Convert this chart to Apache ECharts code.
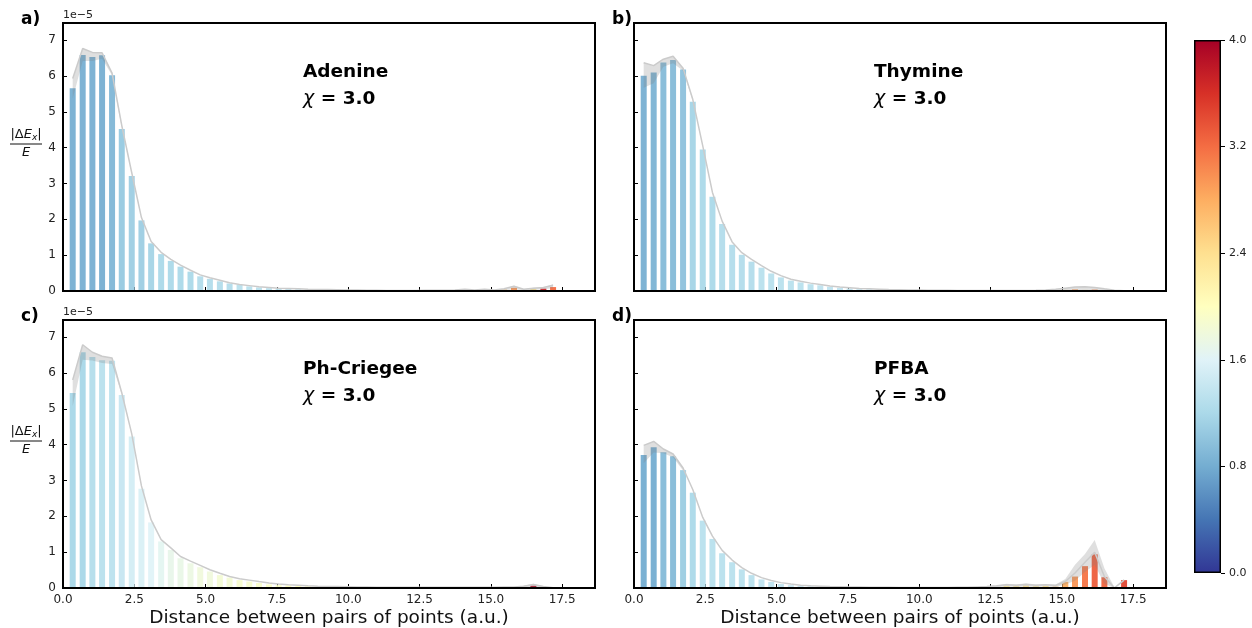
<!DOCTYPE html>
<html><head><meta charset="utf-8">
<script src="https://cdn.jsdelivr.net/npm/echarts/dist/echarts.min.js"></script>
<style>html,body{margin:0;padding:0;background:#fff}#c{width:1252px;height:628px}</style>
</head><body><div id="c"></div>
<script>
// ---- data (y values in units of 1e-5) ----
const binCenters = [0.34,0.69,1.03,1.37,1.72,2.06,2.41,2.75,3.09,3.44,3.78,4.12,4.47,4.81,5.15,5.50,5.84,6.19,6.53,6.87,7.22,7.56,7.90,8.25,8.59,8.93,9.28,9.62,9.96,10.31,10.65,11.00,11.34,11.68,12.03,12.37,12.71,13.06,13.40,13.74,14.09,14.43,14.78,15.12,15.46,15.81,16.15,16.49,16.84,17.18];

const panelNames = ['Adenine','Thymine','Ph-Criegee','PFBA'];
const panelLetters = ['a)','b)','c)','d)'];
const chiLabel = '\u03c7';
const chiValue = ' = 3.0';
const xTitle = 'Distance between pairs of points (a.u.)';
const offsetText = '1e\u22125';
const colorbarTicks = [0.0,0.8,1.6,2.4,3.2,4.0];
const cmapColors = ['#313695','#4575b4','#74add1','#abd9e9','#e0f3f8','#ffffbf','#fee090','#fdae61','#f46d43','#d73027','#a50026'];

const barsA = [5.66,6.59,6.53,6.58,6.02,4.52,3.21,1.97,1.33,1.03,0.84,0.68,0.54,0.41,0.34,0.27,0.21,0.17,0.13,0.10,0.08,0.07,0.06,0.05,0.04,0.035,0.03,0.025,0.02,0.02,0.015,0.015,0.01,0.01,0.01,0.01,0.01,0.01,0.015,0.02,0.02,0.015,0.03,0.02,0.04,0.09,0.03,0.06,0.065,0.11];
const colA  = [0.82,0.82,0.82,0.82,0.88,1.05,1.1,1.1,1.15,1.2,1.2,1.2,1.2,1.25,1.25,1.25,1.25,1.3,1.3,1.3,1.3,1.3,1.35,1.35,1.35,1.4,1.4,1.4,1.45,1.45,1.5,1.5,1.55,1.6,1.7,1.8,1.9,2.0,2.1,2.3,2.6,2.2,2.8,2.4,2.6,2.95,2.3,2.3,3.7,3.2];
const lineA = [5.93,6.77,6.66,6.65,6.08,4.62,3.30,2.05,1.38,1.08,0.88,0.72,0.58,0.45,0.37,0.30,0.23,0.18,0.15,0.12,0.10,0.08,0.07,0.06,0.05,0.045,0.04,0.035,0.03,0.025,0.02,0.02,0.015,0.015,0.015,0.015,0.02,0.02,0.02,0.03,0.05,0.03,0.05,0.03,0.06,0.13,0.05,0.08,0.10,0.16];
const bandA = [[0.34,5.37,5.93],[0.69,6.42,6.77],[1.03,6.42,6.66],[1.37,6.48,6.65],[1.72,6.02,6.08],[2.06,4.55,4.62],
               [13.40,0.01,0.02],[13.74,0.01,0.03],[14.09,0.01,0.05],[14.43,0.01,0.03],[14.78,0.01,0.05],[15.12,0.01,0.03],[15.46,0.02,0.06],[15.81,0.05,0.15],[16.15,0.02,0.05],[16.49,0.03,0.09],[16.84,0.05,0.10],[17.18,0.08,0.19]];

const barsB = [6.01,6.10,6.38,6.45,6.18,5.28,3.95,2.63,1.87,1.29,1.01,0.82,0.65,0.49,0.38,0.29,0.24,0.19,0.16,0.12,0.09,0.07,0.06,0.05,0.04,0.035,0.03,0.025,0.02,0.02,0.015,0.015,0.01,0.01,0.01,0.01,0.01,0.01,0.01,0.01,0.01,0.015,0.02,0.03,0.045,0.03,0.04,0.02,0.01,0.01];
const colB  = [0.82,0.85,0.92,0.92,0.98,1.15,1.2,1.2,1.25,1.25,1.25,1.25,1.3,1.3,1.3,1.3,1.3,1.3,1.35,1.35,1.35,1.35,1.4,1.4,1.4,1.45,1.45,1.5,1.5,1.55,1.6,1.6,1.7,1.8,1.9,2.0,2.1,2.2,2.3,2.3,2.4,2.5,2.6,2.5,2.9,2.5,3.0,2.4,2.4,2.5];
const lineB = [6.37,6.29,6.47,6.55,6.22,5.35,4.05,2.75,1.95,1.37,1.07,0.88,0.71,0.55,0.43,0.33,0.27,0.22,0.18,0.14,0.11,0.09,0.07,0.06,0.05,0.04,0.035,0.03,0.025,0.02,0.02,0.02,0.015,0.015,0.015,0.015,0.015,0.015,0.015,0.015,0.02,0.03,0.05,0.08,0.11,0.12,0.10,0.06,0.02,0.01];
const bandB = [[0.34,5.67,6.37],[0.69,5.80,6.29],[1.03,6.26,6.47],[1.37,6.36,6.55],[1.72,6.15,6.22],[2.06,5.30,5.35],
               [14.43,0.01,0.03],[14.78,0.01,0.05],[15.12,0.01,0.08],[15.46,0.02,0.11],[15.81,0.02,0.12],[16.15,0.02,0.10],[16.49,0.01,0.06],[16.84,0.00,0.02]];

const barsC = [5.44,6.58,6.45,6.36,6.34,5.39,4.23,2.77,1.83,1.30,1.06,0.83,0.69,0.58,0.46,0.36,0.29,0.22,0.18,0.14,0.10,0.08,0.07,0.06,0.05,0.04,0.035,0.03,0.025,0.02,0.015,0.015,0.01,0.01,0.01,0.01,0.01,0.01,0.01,0.01,0.01,0.01,0.01,0.015,0.02,0.02,0.03,0.065,0.02,0.01];
const colC  = [1.18,1.18,1.26,1.3,1.32,1.4,1.5,1.55,1.6,1.65,1.7,1.72,1.75,1.8,1.8,1.85,1.85,1.9,1.9,1.92,1.95,1.95,2.0,2.0,2.0,2.05,2.05,2.05,2.1,2.1,2.1,2.15,2.2,2.2,2.25,2.3,2.3,2.4,2.4,2.5,2.5,2.6,2.6,2.7,2.8,2.9,3.0,3.9,3.2,3.0];
const lineC = [5.81,6.79,6.58,6.47,6.42,5.45,4.30,2.85,1.90,1.35,1.12,0.88,0.75,0.63,0.51,0.41,0.32,0.26,0.22,0.18,0.14,0.11,0.09,0.08,0.06,0.05,0.045,0.04,0.035,0.03,0.025,0.02,0.02,0.02,0.02,0.02,0.02,0.02,0.02,0.02,0.02,0.02,0.02,0.02,0.03,0.03,0.05,0.10,0.04,0.01];
const bandC = [[0.34,5.08,5.81],[0.69,6.37,6.79],[1.03,6.35,6.58],[1.37,6.28,6.47],[1.72,6.25,6.42],[2.06,5.40,5.45],
               [15.46,0.01,0.02],[15.81,0.01,0.03],[16.15,0.02,0.06],[16.49,0.03,0.12],[16.84,0.01,0.04],[17.18,0.00,0.01]];

const barsD = [3.71,3.93,3.79,3.68,3.29,2.66,1.88,1.37,0.97,0.72,0.52,0.36,0.24,0.17,0.11,0.08,0.06,0.05,0.04,0.03,0.03,0.02,0.02,0.015,0.015,0.01,0.01,0.01,0.01,0.01,0.01,0.01,0.01,0.01,0.01,0.015,0.02,0.065,0.05,0.07,0.05,0.06,0.04,0.17,0.32,0.61,0.94,0.30,0.0,0.22];
const colD  = [0.8,0.8,0.92,0.92,1.08,1.2,1.3,1.3,1.3,1.3,1.3,1.3,1.35,1.35,1.35,1.4,1.4,1.4,1.45,1.45,1.5,1.5,1.55,1.6,1.6,1.7,1.7,1.8,1.8,1.9,1.9,2.0,2.0,2.1,2.1,2.2,2.2,2.25,2.3,2.35,2.25,2.35,2.6,2.8,2.95,3.15,3.3,3.25,3.3,3.45];
const lineD = [3.98,4.09,3.88,3.74,3.35,2.75,1.97,1.45,1.05,0.78,0.57,0.41,0.29,0.21,0.15,0.11,0.08,0.06,0.05,0.04,0.035,0.03,0.025,0.02,0.02,0.02,0.015,0.015,0.015,0.015,0.015,0.015,0.02,0.02,0.03,0.04,0.06,0.09,0.08,0.10,0.08,0.09,0.07,0.18,0.42,0.72,1.00,0.32,0.0,0.22];
const bandD = [[0.34,3.48,3.98],[0.69,3.78,4.09],[1.03,3.76,3.88],[1.37,3.65,3.74],[1.72,3.28,3.35],
               [12.37,0.01,0.02],[12.71,0.02,0.06],[13.06,0.04,0.12],[13.40,0.03,0.10],[13.74,0.04,0.13],[14.09,0.03,0.10],[14.43,0.04,0.11],[14.78,0.03,0.10],[15.12,0.10,0.25],[15.46,0.20,0.65],[15.81,0.45,0.95],[16.15,0.65,1.34],[16.49,0.12,0.55],[16.84,0.00,0.02],[17.18,0.18,0.25]];

const panels = [
  {bars: barsA, col: colA, line: lineA, band: bandA},
  {bars: barsB, col: colB, line: lineB, band: bandB},
  {bars: barsC, col: colC, line: lineC, band: bandC},
  {bars: barsD, col: colD, line: lineD, band: bandD}
];

// ---- layout ----
const X_MAX = 18.65, Y_MAX = 7.48;
const grids = [
  {left: 63, top: 23, width: 532, height: 268},
  {left: 634, top: 23, width: 532, height: 268},
  {left: 63, top: 320, width: 532, height: 268},
  {left: 634, top: 320, width: 532, height: 268},
  {left: 1194, top: 40, width: 27, height: 533}
];
const FONT = 'DejaVu Sans';

const chart = echarts.init(document.getElementById('c'), null, {renderer: 'canvas'});

const gridOpts = grids.map((g, i) => Object.assign({outerBoundsMode: 'none', containLabel: false}, g,
  i < 4 ? {show: true, borderColor: '#000', borderWidth: 2, z: 10, backgroundColor: 'transparent'} : {show: false}));

const xAxes = [], yAxes = [];
for (let i = 0; i < 4; i++) {
  const bottomRow = i >= 2, leftCol = i % 2 === 0;
  xAxes.push({
    type: 'value', gridIndex: i, min: 0, max: X_MAX, interval: 2.5,
    axisLine: {show: false},
    axisTick: {show: true, inside: true, length: 4, lineStyle: {color: '#000', width: 1}},
    axisLabel: {show: bottomRow, showMaxLabel: false, fontFamily: FONT, fontSize: 12, color: '#222', margin: 6,
      formatter: v => v.toFixed(1)},
    splitLine: {show: false},
    name: bottomRow ? xTitle : '', nameLocation: 'middle', nameGap: 21,
    nameTextStyle: {fontFamily: FONT, fontSize: 18.5, color: '#111', verticalAlign: 'top'}
  });
  yAxes.push({
    type: 'value', gridIndex: i, min: 0, max: Y_MAX, interval: 1,
    axisLine: {show: false},
    axisTick: {show: true, inside: true, length: 4, lineStyle: {color: '#000', width: 1}},
    axisLabel: {show: leftCol, showMaxLabel: false, fontFamily: FONT, fontSize: 12, color: '#222', margin: 7},
    splitLine: {show: false}
  });
}
// colorbar axes
xAxes.push({type: 'category', gridIndex: 4, data: [''], show: false});
yAxes.push({type: 'value', gridIndex: 4, position: 'right', min: 0, max: 4, interval: 0.8,
  axisLine: {show: false},
  axisTick: {show: true, inside: false, length: 4, lineStyle: {color: '#000', width: 1}},
  axisLabel: {fontFamily: FONT, fontSize: 11, color: '#222', margin: 8, formatter: v => v.toFixed(1)},
  splitLine: {show: false}});

const series = [];
const barIdx = [];
panels.forEach((p, i) => {
  barIdx.push(series.length);
  series.push({
    type: 'bar', xAxisIndex: i, yAxisIndex: i, barWidth: 6, z: 2,
    data: binCenters.map((x, j) => [x, p.bars[j], p.col[j]]),
    encode: {x: 0, y: 1},
    itemStyle: {opacity: 0.95},
    silent: true, animation: false
  });
  const band = p.band;
  series.push({
    type: 'custom', xAxisIndex: i, yAxisIndex: i, z: 3, silent: true, animation: false,
    data: band,
    encode: {x: 0, y: [1, 2]},
    renderItem: function (params, api) {
      const k = params.dataIndex;
      const adj = (a, b) => a && b && Math.abs(b[0] - a[0]) < 0.5;
      if (k > 0 && adj(band[k - 1], band[k])) return {type: 'group', children: []};
      const seg = [band[k]];
      let m = k;
      while (adj(band[m], band[m + 1])) { seg.push(band[m + 1]); m++; }
      if (seg.length < 2) return {type: 'group', children: []};
      const pts = [];
      seg.forEach(s => pts.push(api.coord([s[0], s[2]])));
      for (let t = seg.length - 1; t >= 0; t--) pts.push(api.coord([seg[t][0], seg[t][1]]));
      return {type: 'polygon', shape: {points: pts}, style: {fill: 'rgba(128,128,128,0.25)', stroke: 'none'}};
    }
  });
  series.push({
    type: 'line', xAxisIndex: i, yAxisIndex: i, z: 4, silent: true, animation: false,
    data: binCenters.map((x, j) => [x, p.line[j]]),
    symbol: 'none', lineStyle: {color: '#cbcbcb', width: 1.5}
  });
});
// colorbar
series.push({
  type: 'bar', xAxisIndex: 4, yAxisIndex: 4, barWidth: '100%', silent: true, animation: false,
  data: [colorbarTicks[colorbarTicks.length - 1]],
  itemStyle: {
    borderColor: '#000', borderWidth: 1.5,
    color: new echarts.graphic.LinearGradient(0, 0, 0, 1,
      cmapColors.slice().reverse().map((c, i) => ({offset: i / (cmapColors.length - 1), color: c})))
  }
});

// ---- texts ----
const graphics = [];
const origins = [[0, 0], [571, 0], [0, 297], [571, 297]];
const letterX = [21, 612, 21, 612];
panels.forEach((p, i) => {
  const [ox, oy] = origins[i];
  graphics.push({type: 'text', left: letterX[i], top: 11 + oy, style: {text: panelLetters[i], font: 'bold 17px ' + FONT, fill: '#000'}});
  graphics.push({type: 'text', left: 303 + ox, top: 63 + oy, style: {text: panelNames[i], font: 'bold 18.5px ' + FONT, fill: '#000'}});
  graphics.push({type: 'text', left: 303 + ox, top: 90 + oy, style: {
    text: '{i|' + chiLabel + '}{b|' + chiValue + '}',
    rich: {i: {fontFamily: FONT, fontSize: 19, fontStyle: 'italic', fill: '#000'},
           b: {fontFamily: FONT, fontSize: 18.5, fontWeight: 'bold', fill: '#000'}}}});
  if (i % 2 === 0) {
    graphics.push({type: 'text', left: 63, top: 10 + oy, style: {text: offsetText, font: '11px ' + FONT, fill: '#222'}});
    graphics.push({type: 'text', x: 26, y: 135 + oy, style: {
      text: '{n||\u0394}{e|E}{s|x}{n||}', align: 'center', verticalAlign: 'middle',
      rich: {n: {fontFamily: FONT, fontSize: 13, fill: '#111'},
             e: {fontFamily: FONT, fontSize: 13, fontStyle: 'italic', fill: '#111'},
             s: {fontFamily: FONT, fontSize: 9, fontStyle: 'italic', fill: '#111', padding: [6, 0, 0, 0]}}}});
    graphics.push({type: 'line', shape: {x1: 10, y1: 144 + oy, x2: 42, y2: 144 + oy}, style: {stroke: '#111', lineWidth: 1}});
    graphics.push({type: 'text', x: 26, y: 153 + oy, style: {text: 'E', font: 'italic 13px ' + FONT, fill: '#111', align: 'center', verticalAlign: 'middle'}});
  }
});

chart.setOption({
  animation: false,
  backgroundColor: '#fff',
  grid: gridOpts,
  xAxis: xAxes,
  yAxis: yAxes,
  visualMap: {type: 'continuous', show: false, min: 0, max: 4, dimension: 2, seriesIndex: barIdx,
    inRange: {color: cmapColors}},
  series: series,
  graphic: graphics
});
</script></body></html>
